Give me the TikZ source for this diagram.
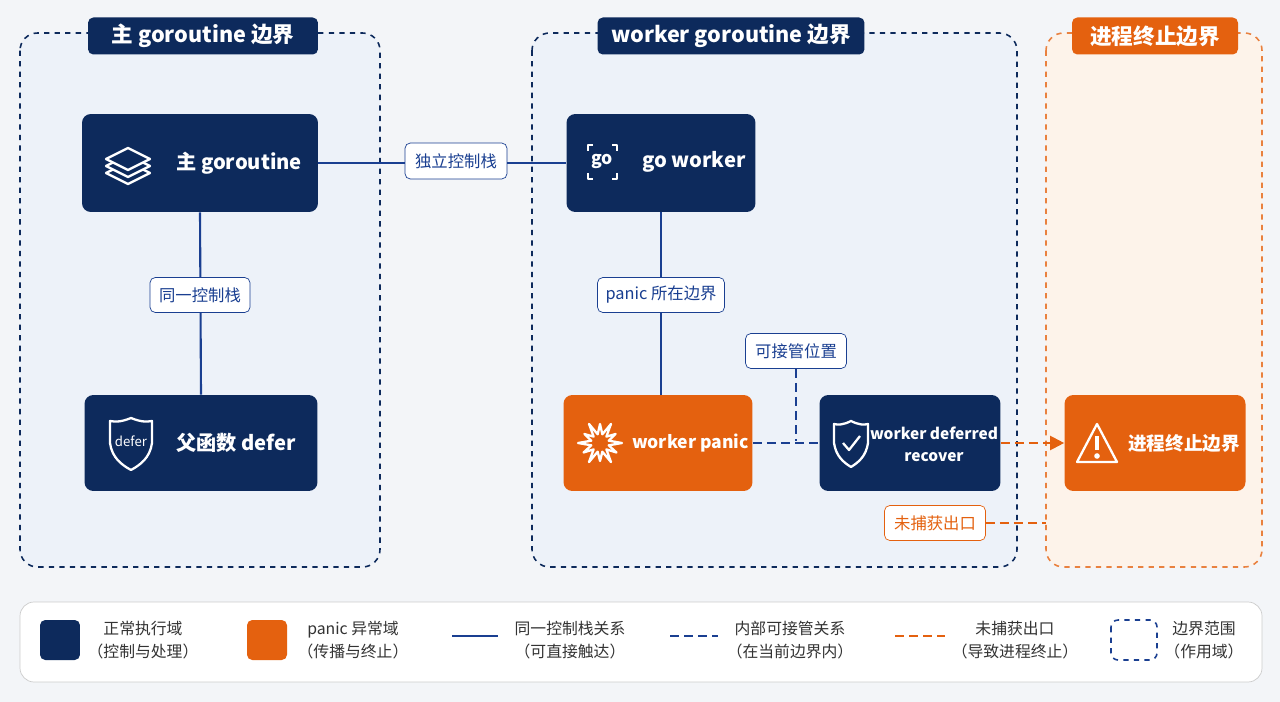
\documentclass[tikz,border=0pt]{standalone}
\usepackage{fontspec}
\setmainfont{Noto Sans CJK SC}
\usetikzlibrary{arrows.meta,shapes.geometric}
\definecolor{navy}{HTML}{0D2A5C}
\definecolor{lnavy}{HTML}{1A3F91}
\definecolor{org}{HTML}{E4610F}
\definecolor{bgb}{HTML}{EDF2F9}
\definecolor{bgo}{HTML}{FDF3EA}
\definecolor{pagebg}{HTML}{F3F5F8}
\tikzset{
 x=0.02cm,y=-0.02cm,
 bound/.style={draw=navy,dashed,line width=0.9pt,rounded corners=10pt,fill=bgb},
 obound/.style={draw=org!80,dashed,line width=0.9pt,rounded corners=10pt,fill=bgo},
 ttl/.style={fill=navy,rounded corners=3pt,text=white,font=\bfseries\fontsize{12.3}{14}\selectfont,inner sep=0pt},
 box/.style={fill=navy,rounded corners=5pt,inner sep=0pt},
 obox/.style={fill=org,rounded corners=5pt,inner sep=0pt},
 btxt/.style={text=white,font=\bfseries\fontsize{11.5}{13}\selectfont,align=center},
 lab/.style={draw=lnavy,fill=white,rounded corners=3pt,text=lnavy,font=\fontsize{9.3}{11}\selectfont,inner sep=0pt},
 olab/.style={draw=org,fill=white,rounded corners=3pt,text=org,font=\fontsize{9.3}{11}\selectfont,inner sep=0pt},
 sl/.style={draw=lnavy,line width=1.2pt},
 dl/.style={draw=lnavy,line width=1.2pt,dash pattern=on 5pt off 3pt},
 ol/.style={draw=org,line width=1.2pt,dash pattern=on 5pt off 3pt},
 leg/.style={font=\fontsize{9}{13}\selectfont,text=black!80,align=center},
 ic/.style={draw=white,line width=1.3pt,line join=round}
}
\begin{document}
\begin{tikzpicture}
\fill[pagebg] (0,0) rectangle (1280,702);
\useasboundingbox (0,0) rectangle (1280,702);
% boundaries
\draw[bound] (20,33) rectangle (380,567);
\draw[bound] (532,33) rectangle (1017,567);
\draw[obound] (1046,33) rectangle (1262,567);
\node[ttl,minimum width=4.6cm,minimum height=0.74cm] (t1) at (203,36) {主 goroutine 边界};
\node[ttl,minimum width=5.34cm,minimum height=0.74cm] (t2) at (731,36) {worker goroutine 边界};
\node[ttl,fill=org,minimum width=3.32cm,minimum height=0.74cm] (t3) at (1155,36) {进程终止边界};
% nodes
\node[box,minimum width=4.72cm,minimum height=1.96cm] (main) at (200,163) {};
\node[box,minimum width=4.66cm,minimum height=1.92cm] (defer) at (201,443) {};
\node[box,minimum width=3.78cm,minimum height=1.96cm] (gow) at (661,163) {};
\node[obox,minimum width=3.78cm,minimum height=1.92cm] (pan) at (658,443) {};
\node[box,minimum width=3.62cm,minimum height=1.92cm] (rec) at (910,443) {};
\node[obox,minimum width=3.62cm,minimum height=1.92cm] (term) at (1155,443) {};
% edges
\draw[sl] (main.east) -- (gow.west);
\draw[sl] (main.south) -- (defer.north);
\draw[sl] (gow.south) -- (gow.south|-pan.north);
\draw[dl] (pan.east) -- (rec.west);
\draw[ol,-{Triangle[length=8pt,width=8pt]}] (rec.east) -- (term.west);
% labels
\node[lab,minimum width=2.04cm,minimum height=0.72cm] (l1) at (456,161) {独立控制栈};
\node[lab,minimum width=2.0cm,minimum height=0.7cm] (l2) at (200,295) {同一控制栈};
\node[lab,minimum width=2.54cm,minimum height=0.7cm] (l3) at (661,295) {panic 所在边界};
\node[lab,minimum width=2.02cm,minimum height=0.7cm] (l4) at (796,351) {可接管位置};
\node[olab,minimum width=2.02cm,minimum height=0.7cm] (l5) at (935,523) {未捕获出口};
\coordinate (j4) at (796,441);
\coordinate (e5) at (1046,523);
\draw[dl] (l4.south) -- (j4);
\draw[ol] (l5.east) -- (e5);
% texts
\node[btxt,anchor=west] at (170,163) {主 goroutine};
\node[btxt,anchor=west] at (170,443) {父函数 defer};
\node[btxt,anchor=west] at (636,162) {go worker};
\node[btxt,anchor=west,font=\bfseries\fontsize{10}{12}\selectfont] at (626,443) {worker panic};
\node[btxt,font=\bfseries\fontsize{8.8}{12.5}\selectfont] at (934,444) {worker deferred\\recover};
\node[btxt,anchor=west,font=\bfseries\fontsize{10.6}{12}\selectfont] at (1122,443) {进程终止边界};
% icons
\begin{scope}[ic]
 \foreach \d in {14,7,0} \draw[fill=navy] (128,148+\d) -- (150,159+\d) -- (128,170+\d) -- (106,159+\d) -- cycle;
 \draw (593,145) -- (588,145) -- (588,151); \draw (612,145) -- (617,145) -- (617,151);
 \draw (588,173) -- (588,179) -- (593,179); \draw (617,173) -- (617,179) -- (612,179);
 \node[text=white,font=\bfseries\fontsize{10}{12}\selectfont] at (602,161) {go};
 \draw (131,418) .. controls (121,422) and (116,422) .. (110,421) -- (110,443) .. controls (112,458) and (122,465) .. (131,470) .. controls (140,465) and (150,458) .. (152,443) -- (152,421) .. controls (146,422) and (141,422) .. (131,418) -- cycle;
 \node[text=white,font=\fontsize{7.5}{9}\selectfont] at (131,441) {defer};
 \draw (851,421) .. controls (843,425) and (838,425) .. (834,424) -- (834,443) .. controls (836,456) and (843,462) .. (851,467) .. controls (859,462) and (866,456) .. (868,443) -- (868,424) .. controls (864,425) and (859,425) .. (851,421) -- cycle;
 \draw (843,443) -- (849,450) -- (860,436);
 \draw (1097,424) -- (1117,462) -- (1077,462) -- cycle;
 \draw[line width=2pt] (1097,436) -- (1097,450);
 \fill[white] (1097,456) circle (1.6pt);
 \draw[shift={(600,443)}] (0:22) -- (15:9) -- (30:19) -- (45:9) -- (60:22) -- (75:9) -- (90:18) -- (105:9) -- (120:22) -- (135:9) -- (150:19) -- (165:9) -- (180:22) -- (195:9) -- (210:18) -- (225:9) -- (240:22) -- (255:9) -- (270:19) -- (285:9) -- (300:22) -- (315:9) -- (330:18) -- (345:9) -- cycle;
\end{scope}
% legend
\draw[draw=black!20,fill=white,rounded corners=8pt] (20,602) rectangle (1262,682);
\node[fill=navy,rounded corners=3pt,minimum size=0.8cm,inner sep=0pt] (k1) at (60,640) {};
\node[leg] at (143,640) {正常执行域\\（控制与处理）};
\node[fill=org,rounded corners=3pt,minimum size=0.8cm,inner sep=0pt] (k2) at (267,640) {};
\node[leg] at (353,640) {panic 异常域\\（传播与终止）};
\coordinate (a1) at (452,636); \coordinate (b1) at (498,636);
\draw[sl] (a1) -- (b1);
\node[leg] at (570,640) {同一控制栈关系\\（可直接触达）};
\coordinate (a2) at (670,636); \coordinate (b2) at (718,636);
\draw[dl] (a2) -- (b2);
\node[leg] at (790,640) {内部可接管关系\\（在当前边界内）};
\coordinate (a3) at (895,636); \coordinate (b3) at (945,636);
\draw[ol] (a3) -- (b3);
\node[leg] at (1015,640) {未捕获出口\\（导致进程终止）};
\draw[draw=lnavy,dashed,line width=0.9pt,rounded corners=4pt] (1111,620) rectangle (1157,660);
\node[leg] at (1204,640) {边界范围\\（作用域）};
\end{tikzpicture}
\end{document}
